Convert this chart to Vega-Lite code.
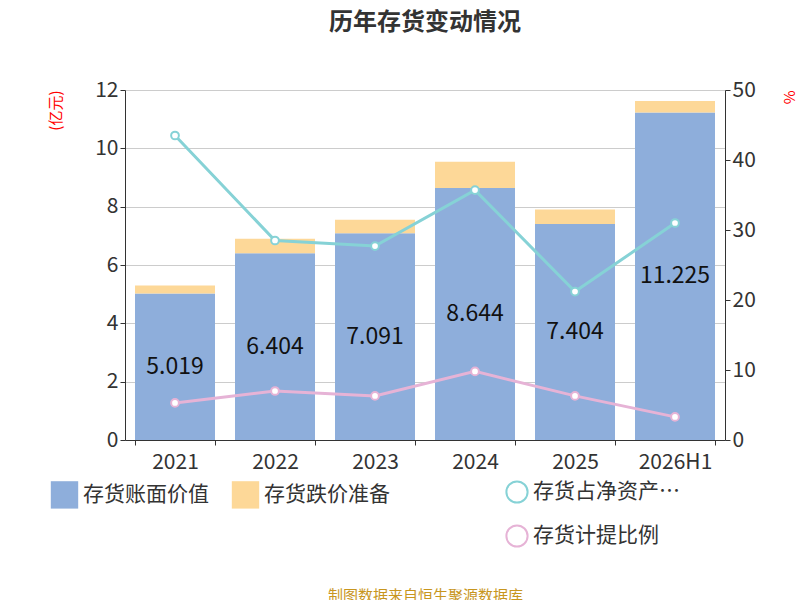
{
  "$schema": "https://vega.github.io/schema/vega-lite/v6.json",
  "width": 600,
  "height": 350,
  "autosize": "none",
  "padding": {"left": 125, "top": 90, "right": 75, "bottom": 160},
  "config": {"font": "Noto Sans CJK SC", "view": {"stroke": null}},
  "title": {"text": "历年存货变动情况", "fontSize": 24, "fontWeight": "bold", "color": "#333", "offset": 44, "anchor": "middle"},
  "datasets": {
    "bars": [
      {"year": "2021", "type": "存货账面价值", "v": 5.019, "o": 1},
      {"year": "2021", "type": "存货跌价准备", "v": 0.28, "o": 2},
      {"year": "2022", "type": "存货账面价值", "v": 6.404, "o": 1},
      {"year": "2022", "type": "存货跌价准备", "v": 0.5, "o": 2},
      {"year": "2023", "type": "存货账面价值", "v": 7.091, "o": 1},
      {"year": "2023", "type": "存货跌价准备", "v": 0.46, "o": 2},
      {"year": "2024", "type": "存货账面价值", "v": 8.644, "o": 1},
      {"year": "2024", "type": "存货跌价准备", "v": 0.9, "o": 2},
      {"year": "2025", "type": "存货账面价值", "v": 7.404, "o": 1},
      {"year": "2025", "type": "存货跌价准备", "v": 0.5, "o": 2},
      {"year": "2026H1", "type": "存货账面价值", "v": 11.225, "o": 1},
      {"year": "2026H1", "type": "存货跌价准备", "v": 0.4, "o": 2}
    ],
    "lines": [
      {"year": "2021", "s": "存货占净资产比例", "p": 43.5},
      {"year": "2022", "s": "存货占净资产比例", "p": 28.5},
      {"year": "2023", "s": "存货占净资产比例", "p": 27.7},
      {"year": "2024", "s": "存货占净资产比例", "p": 35.7},
      {"year": "2025", "s": "存货占净资产比例", "p": 21.2},
      {"year": "2026H1", "s": "存货占净资产比例", "p": 31.0},
      {"year": "2021", "s": "存货计提比例", "p": 5.3},
      {"year": "2022", "s": "存货计提比例", "p": 7.0},
      {"year": "2023", "s": "存货计提比例", "p": 6.3},
      {"year": "2024", "s": "存货计提比例", "p": 9.8},
      {"year": "2025", "s": "存货计提比例", "p": 6.3},
      {"year": "2026H1", "s": "存货计提比例", "p": 3.3}
    ]
  },
  "encoding": {
    "x": {
      "field": "year", "type": "nominal", "sort": null,
      "scale": {"paddingInner": 0.2, "paddingOuter": 0.1},
      "axis": {"labelAngle": 0, "labelFontSize": 21, "labelColor": "#333", "domainColor": "#333", "tickColor": "#333", "tickBand": "extent", "labelPadding": 6,
        "title": "制图数据来自恒生聚源数据库", "titleColor": "#c8961e", "titleFontSize": 15, "titleFontWeight": "normal", "titlePadding": 116}
    }
  },
  "layer": [
    {
      "data": {"name": "bars"},
      "layer": [
        {
          "mark": {"type": "bar"},
          "encoding": {
            "y": {"field": "v", "type": "quantitative", "stack": "zero", "scale": {"domain": [0, 12]},
              "axis": {"title": "(亿元)", "titleColor": "red", "titleFontSize": 15, "titleFontWeight": "normal", "titleAngle": -90, "titleAlign": "right", "titleAnchor": "end", "titleX": -62, "titleY": 0,
                "tickCount": 6, "labelFontSize": 21, "labelColor": "#333", "domainColor": "#333", "tickColor": "#333", "gridColor": "#ccc"}},
            "order": {"field": "o"},
            "fill": {"field": "type", "type": "nominal", "sort": ["存货账面价值", "存货跌价准备"],
              "scale": {"range": ["#8eaedb", "#fdd898"]},
              "legend": {"orient": "none", "legendX": -75, "legendY": 390, "direction": "horizontal", "title": null, "labelFontSize": 21, "labelColor": "#333", "symbolType": "square", "symbolSize": 750, "columnPadding": 22, "symbolOpacity": 1}}
          }
        },
        {
          "transform": [{"filter": "datum.o == 1"}],
          "mark": {"type": "text", "fontSize": 23, "color": "#111"},
          "encoding": {
            "y": {"field": "v", "type": "quantitative", "scale": {"domain": [0, 24]}, "axis": null},
            "text": {"field": "v", "format": ".3f"}
          }
        }
      ],
      "resolve": {"scale": {"y": "independent"}}
    },
    {
      "data": {"name": "lines"},
      "mark": {"type": "line", "strokeWidth": 3, "point": {"filled": true, "fill": "white", "size": 60, "strokeWidth": 2}},
      "encoding": {
        "y": {"field": "p", "type": "quantitative", "scale": {"domain": [0, 50]},
          "axis": {"orient": "right", "title": "%", "titleColor": "red", "titleFontSize": 15, "titleFontWeight": "normal", "titleAngle": -90, "titleAnchor": "end", "titleAlign": "right", "titleY": 0, "titleX": 72,
            "grid": false, "tickCount": 5, "labelFontSize": 21, "labelColor": "#333", "domainColor": "#333", "tickColor": "#333"}},
        "stroke": {"field": "s", "type": "nominal", "sort": ["存货占净资产比例", "存货计提比例"],
          "scale": {"range": ["#86d2d6", "#e6b3d6"]},
          "legend": {"orient": "none", "legendX": 380, "legendY": 390, "direction": "vertical", "title": null, "labelFontSize": 21, "labelColor": "#333", "symbolType": "circle", "symbolSize": 450, "symbolStrokeWidth": 2, "rowPadding": 14}}
      }
    }
  ],
  "resolve": {"scale": {"y": "independent"}}
}
